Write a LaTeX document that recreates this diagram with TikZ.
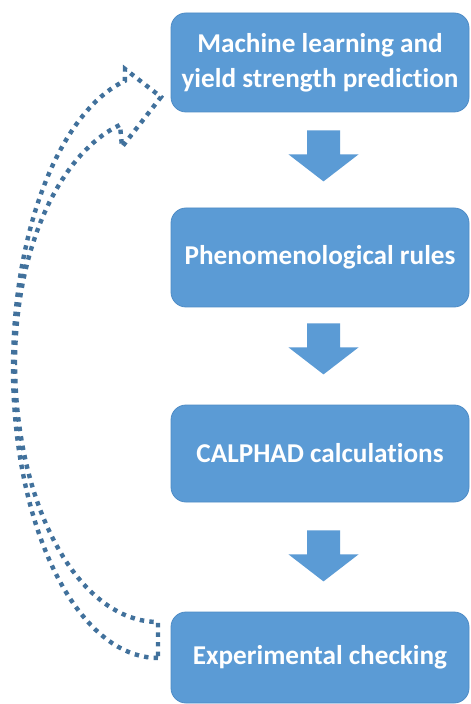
\documentclass[tikz,border=0pt]{standalone}
\usepackage{fontspec}
\setmainfont[RawFeature={-liga,-clig,-dlig}]{Carlito}
\usetikzlibrary{calc}
\definecolor{boxblue}{HTML}{5B9BD5}
\definecolor{boxedge}{HTML}{4F8CC6}
\definecolor{dotblue}{HTML}{41719C}
\begin{document}
\begin{tikzpicture}[x=0.5pt,y=-0.5pt,
  box/.style={draw=boxedge, line width=0.4pt, fill=boxblue, rounded corners=7.5pt,
    minimum width=149pt, text=white, font=\fontsize{13.6}{17.5}\selectfont\bfseries,
    align=center, inner sep=0pt},
  loopline/.style={draw=dotblue, line width=2.2pt, dash pattern=on 2.2pt off 2.6pt},
  downarrow/.pic={\fill[boxblue] (-16.5,0) -- (16.5,0) -- (16.5,24) -- (35,24) -- (0,51) -- (-35,24) -- (-16.5,24) -- cycle;}
]
\useasboundingbox (0,0) rectangle (470,704);
\fill[white] (0,0) rectangle (470,704);

\node[box, minimum height=49.5pt] (b1) at (320,62.5) {Machine learning and\\yield strength prediction};
\node[box, minimum height=49.5pt] (b2) at (320,257.5) {Phenomenological rules};
\node[box, minimum height=48.5pt] (b3) at (320,453.5) {CALPHAD calculations};
\node[box, minimum height=45.5pt] (b4) at (320,657.5) {Experimental checking};

\pic at ($(b1.south)+(3.5,18)$) {downarrow};
\pic at ($(b2.south)+(3.5,16)$) {downarrow};
\pic at ($(b3.south)+(3.5,28)$) {downarrow};

\draw[loopline] (158,658)
  -- plot[domain=90:180, samples=40] ({158+145*cos(\x)},{368+290*sin(\x)})
  -- plot[domain=180:256.8, samples=40] ({158+145*cos(\x)},{368+295*sin(\x)})
  -- (125,69) -- (161,97) -- (122,147) -- (120,125)
  -- plot[domain=0:74.6, samples=40] ({158+143*cos(254.6-\x)},{363+247*sin(254.6-\x)})
  -- plot[domain=0:90, samples=40] ({158+143*cos(180-\x)},{363+259*sin(180-\x)})
  -- cycle;
\end{tikzpicture}
\end{document}
